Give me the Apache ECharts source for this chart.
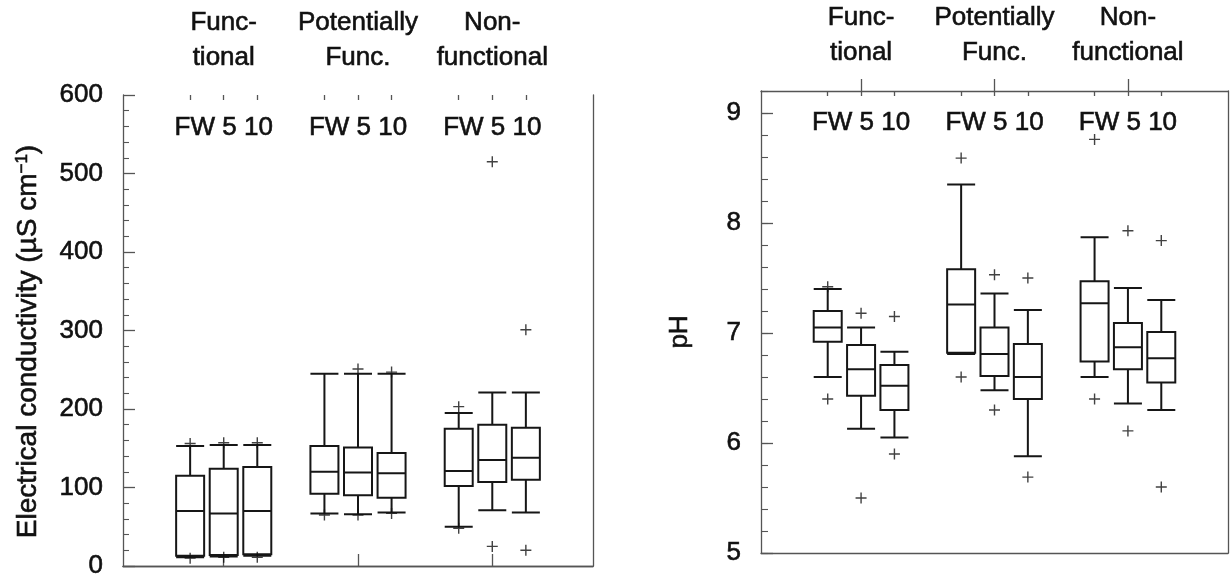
<!DOCTYPE html>
<html>
<head>
<meta charset="utf-8">
<script src="https://cdn.jsdelivr.net/npm/echarts@6/dist/echarts.min.js"></script>
<style>
html,body{margin:0;padding:0;background:#fff;}
#chart{width:1231px;height:580px;}
</style>
</head>
<body>
<div id="chart"></div>
<script>
// ---- data ----
const groups = ['Func-\ntional', 'Potentially\nFunc.', 'Non-\nfunctional'];
const treatments = ['FW', '5', '10'];

// Electrical conductivity boxes [min, Q1, median, Q3, max], order: group x treatment
const ecBoxes = [
  [11, 13, 70, 115, 153],
  [12, 14, 67, 124, 154],
  [13, 15, 70, 126, 154],
  [67, 92, 120, 153, 245],
  [66, 90, 119, 151, 245],
  [68, 87, 118, 144, 245],
  [50, 102, 121, 175, 195],
  [71, 107, 135, 180, 221],
  [68, 110, 138, 176, 221]
];
// outliers [boxIndex, value]
const ecOutliers = [
  [0, 156], [0, 10], [1, 157], [1, 11], [2, 157], [2, 11],
  [3, 65], [4, 251], [4, 65], [5, 247], [5, 67],
  [6, 203], [6, 48], [7, 515], [7, 25], [8, 301], [8, 20]
];

// pH boxes [min, Q1, median, Q3, max]
const phBoxes = [
  [6.60, 6.92, 7.05, 7.20, 7.40],
  [6.13, 6.43, 6.67, 6.89, 7.05],
  [6.05, 6.30, 6.52, 6.71, 6.83],
  [6.81, 6.82, 7.26, 7.58, 8.35],
  [6.48, 6.61, 6.81, 7.05, 7.36],
  [5.88, 6.40, 6.60, 6.90, 7.21],
  [6.60, 6.74, 7.27, 7.47, 7.87],
  [6.36, 6.67, 6.87, 7.09, 7.41],
  [6.30, 6.55, 6.77, 7.01, 7.30]
];
const phOutliers = [
  [0, 7.42], [0, 6.40], [1, 7.18], [1, 5.50], [2, 7.15], [2, 5.90],
  [3, 8.59], [3, 6.60], [4, 7.53], [4, 6.30], [5, 7.50], [5, 5.69],
  [6, 8.76], [6, 6.40], [7, 7.93], [7, 6.11], [8, 7.84], [8, 5.60]
];

const ecRange = [0, 600];
const ecStep = 100;
const phRange = [5, 9.2];
const phStep = 1;
const phMinorStep = 0.2;

// ---- layout helpers (slot positions along x) ----
const slotsPerGroup = treatments.length + 1;
const firstSlot = 2;
const slotCount = firstSlot * 2 + groups.length * slotsPerGroup - 1; // 15 slots: 0..14
function posOf(i) {
  return firstSlot + slotsPerGroup * Math.floor(i / treatments.length) + (i % treatments.length);
}
const slotNames = Array.from({length: slotCount}, (_, i) => 's' + i);
const groupSlotLabel = {};
const treatSlotLabel = {};
const boxSlots = {};
groups.forEach((g, gi) => {
  const center = posOf(gi * treatments.length + 1);
  groupSlotLabel[center] = g;
  treatSlotLabel[center] = treatments.join(' ');
  treatments.forEach((t, ti) => { boxSlots[posOf(gi * treatments.length + ti)] = true; });
});

const FONT = 'Liberation Sans, Arial, Helvetica, sans-serif';
const TXT = '#111';
const FRAME = '#555';
const BOX = '#161616';
const frameLine = {show: true, lineStyle: {color: FRAME, width: 1.3}};
const heavy = {textBorderColor: TXT, textBorderWidth: 0.6};

function topAxes(gridIndex, groupMargin, treatMargin) {
  return [
    {
      gridIndex, type: 'value', position: 'bottom', min: 0, max: slotCount - 1,
      axisLine: frameLine, axisTick: {show: false}, axisLabel: {show: false},
      splitLine: {show: false}
    },
    {
      gridIndex, type: 'category', position: 'top', boundaryGap: false, data: slotNames,
      axisLine: frameLine,
      axisTick: {show: true, inside: false, length: 12, lineStyle: {color: FRAME, width: 1.3},
        interval: (idx) => groupSlotLabel[idx] !== undefined},
      axisLabel: Object.assign({interval: 0, margin: groupMargin, formatter: (v, idx) => groupSlotLabel[idx] || '',
        fontFamily: FONT, fontSize: 26, lineHeight: 35, color: TXT, align: 'center'}, heavy),
      splitLine: {show: false}
    },
    {
      gridIndex, type: 'category', position: 'top', boundaryGap: false, data: slotNames,
      axisLine: {show: false},
      axisTick: {show: true, inside: true, length: 5, lineStyle: {color: FRAME, width: 1.3},
        interval: (idx) => !!boxSlots[idx]},
      axisLabel: Object.assign({inside: true, interval: 0, margin: treatMargin, formatter: (v, idx) => treatSlotLabel[idx] || '',
        fontFamily: FONT, fontSize: 26, color: TXT}, heavy),
      splitLine: {show: false}
    }
  ];
}

const plusSymbol = 'path://M0,5L10,5M5,0L5,10';

function boxSeries(boxes, xi, yi) {
  return {
    type: 'boxplot', xAxisIndex: xi, yAxisIndex: yi,
    boxWidth: [28, 28],
    itemStyle: {color: '#fff', borderColor: BOX, borderWidth: 2},
    data: boxes.map((b, i) => [posOf(i)].concat(b)),
    z: 3
  };
}
function outlierSeries(outs, xi, yi) {
  return {
    type: 'scatter', xAxisIndex: xi, yAxisIndex: yi,
    symbol: plusSymbol, symbolSize: 11,
    itemStyle: {color: 'transparent', borderColor: '#111', borderWidth: 1.4},
    data: outs.map(([i, v]) => [posOf(i), v]),
    z: 4
  };
}

const chart = echarts.init(document.getElementById('chart'), null, {renderer: 'canvas'});
chart.setOption({
  animation: false,
  backgroundColor: '#fff',
  grid: [
    {left: 123, top: 95, width: 470, height: 471},
    {left: 761, top: 83, width: 468, height: 470}
  ],
  xAxis: [].concat(topAxes(0, 20, 20), topAxes(1, 21, 19)),
  yAxis: [
    {
      gridIndex: 0, type: 'value', position: 'left', min: ecRange[0], max: ecRange[1], interval: ecStep,
      axisLine: frameLine,
      axisTick: {inside: true, length: 12, lineStyle: {color: FRAME, width: 1.3}},
      minorTick: {show: true, splitNumber: 5, length: 6, lineStyle: {color: FRAME, width: 1.1}},
      axisLabel: Object.assign({fontFamily: FONT, fontSize: 26, color: TXT, margin: 20}, heavy),
      splitLine: {show: false},
      name: 'Electrical conductivity (µS cm{sup|−1})',
      nameLocation: 'middle', nameRotate: 90, nameGap: 81,
      nameTextStyle: Object.assign({fontFamily: FONT, fontSize: 28, color: TXT, padding: [0, 22, 0, 0],
        rich: {sup: Object.assign({fontFamily: FONT, fontSize: 17, color: TXT, verticalAlign: 'top', lineHeight: 17}, heavy)}}, heavy)
    },
    {
      gridIndex: 0, type: 'value', position: 'right', min: ecRange[0], max: ecRange[1], interval: ecStep,
      axisLine: frameLine, axisTick: {show: false}, axisLabel: {show: false}, splitLine: {show: false}
    },
    {
      gridIndex: 1, type: 'value', position: 'left', min: phRange[0], max: phRange[1], interval: phStep,
      axisLine: frameLine,
      axisTick: {inside: true, length: 12, lineStyle: {color: FRAME, width: 1.3}},
      axisLabel: Object.assign({fontFamily: FONT, fontSize: 26, color: TXT, margin: 20, showMaxLabel: false,
        formatter: (v) => Number.isInteger(Math.round(v * 1000) / 1000) ? String(Math.round(v)) : ''}, heavy),
      splitLine: {show: false},
      name: 'pH', nameLocation: 'middle', nameRotate: 90, nameGap: 68,
      nameTextStyle: Object.assign({fontFamily: FONT, fontSize: 26, color: TXT, padding: [0, 20, 0, 0]}, heavy)
    },
    {
      gridIndex: 1, type: 'value', position: 'left', min: phRange[0], max: phRange[1], interval: phMinorStep,
      axisLine: {show: false},
      axisTick: {inside: true, length: 7, lineStyle: {color: FRAME, width: 1.1}},
      axisLabel: {show: false}, splitLine: {show: false}
    },
    {
      gridIndex: 1, type: 'value', position: 'right', min: phRange[0], max: phRange[1], interval: phStep,
      axisLine: frameLine, axisTick: {show: false}, axisLabel: {show: false}, splitLine: {show: false}
    }
  ],
  series: [
    boxSeries(ecBoxes, 0, 0),
    outlierSeries(ecOutliers, 0, 0),
    boxSeries(phBoxes, 3, 2),
    outlierSeries(phOutliers, 3, 2)
  ]
});
</script>
</body>
</html>
